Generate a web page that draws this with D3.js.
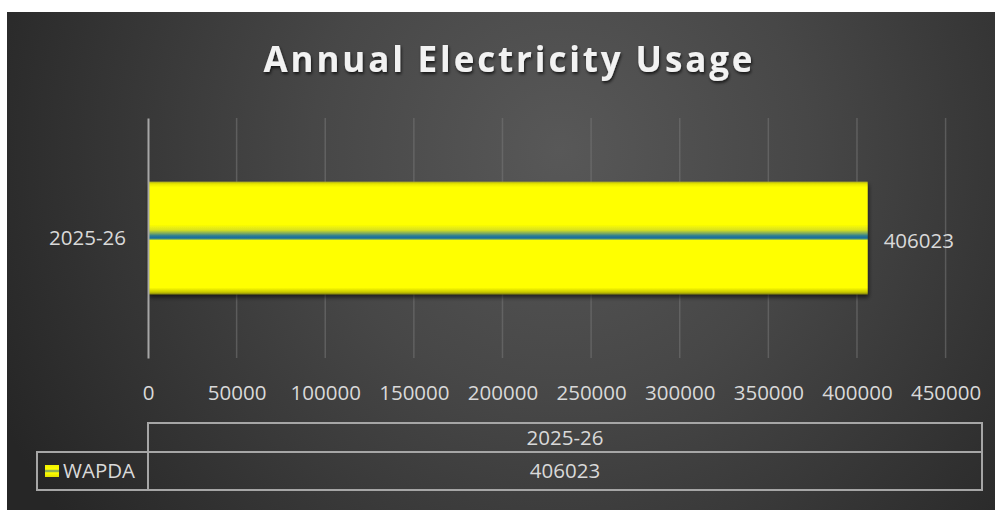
<!DOCTYPE html>
<html><head><meta charset="utf-8">
<script src="https://cdn.jsdelivr.net/npm/d3@7"></script>
<style>
html,body{margin:0;padding:0;background:#fff;}
svg{display:block;font-family:"Open Sans",sans-serif;}
</style></head>
<body>
<svg id="c" width="995" height="510"></svg>
<script>
const title = "Annual Electricity Usage";
const categories = ["2025-26"];
const seriesName = "WAPDA";
const values = [406023];
const xTicks = [0,50000,100000,150000,200000,250000,300000,350000,400000,450000];

const svg = d3.select("#c");
const defs = svg.append("defs");

const bg = defs.append("radialGradient").attr("id","bg")
  .attr("gradientUnits","userSpaceOnUse").attr("cx",560).attr("cy",150).attr("r",620);
bg.append("stop").attr("offset","0%").attr("stop-color","#585858");
bg.append("stop").attr("offset","40%").attr("stop-color","#474747");
bg.append("stop").attr("offset","100%").attr("stop-color","#262626");

const bar = defs.append("linearGradient").attr("id","bar").attr("x1",0).attr("y1",0).attr("x2",0).attr("y2",1);
[["0%","#a8a820"],["2%","#e8e800"],["5%","#ffff00"],["38%","#ffff00"],["43%","#d8e020"],["46%","#7aa860"],["48%","#2f7f90"],["50%","#1a6aa0"],["51%","#5f9f70"],["52%","#ffff00"],["94%","#ffff00"],["98%","#c8c800"],["100%","#808010"]]
  .forEach(s=>bar.append("stop").attr("offset",s[0]).attr("stop-color",s[1]));

const sh = defs.append("filter").attr("id","sh").attr("x","-5%").attr("y","-20%").attr("width","115%").attr("height","150%");
sh.append("feDropShadow").attr("dx",1).attr("dy",3).attr("stdDeviation",2).attr("flood-color","#000").attr("flood-opacity",0.6);
const tsh = defs.append("filter").attr("id","tsh").attr("x","-5%").attr("y","-20%").attr("width","110%").attr("height","160%");
tsh.append("feDropShadow").attr("dx",1).attr("dy",2).attr("stdDeviation",1.5).attr("flood-color","#000").attr("flood-opacity",0.7);

svg.append("rect").attr("x",7).attr("y",12).attr("width",988).attr("height",498).attr("fill","url(#bg)");

svg.append("text").attr("x",508).attr("y",72).attr("text-anchor","middle")
  .attr("fill","#f2f2f2").attr("font-size",35).attr("font-weight","bold")
  .attr("textLength",489).attr("lengthAdjust","spacing")
  .attr("filter","url(#tsh)").text(title);

const x = d3.scaleLinear().domain([0,450000]).range([148,945.6]);
const y = d3.scaleBand().domain(categories).range([118,358]).paddingInner(0.53).paddingOuter(0.265);

// gridlines
svg.append("g").selectAll("line").data(xTicks.slice(1)).join("line")
  .attr("x1",d=>x(d)).attr("x2",d=>x(d)).attr("y1",118).attr("y2",358)
  .attr("stroke","#777").attr("stroke-opacity",0.55).attr("stroke-width",1.5);

// x axis labels
const xa = svg.append("g").attr("transform","translate(0,393)")
  .call(d3.axisBottom(x).tickValues(xTicks).tickSize(0).tickPadding(0).tickFormat(d=>String(d)));
xa.select(".domain").remove();
xa.selectAll("text").attr("fill","#d9d9d9").attr("font-size",20.5).attr("font-family","Open Sans")
  .attr("dy","0.35em").attr("y",0);

// bars
svg.append("g").selectAll("rect").data(values).join("rect")
  .attr("x",x(0)).attr("y",(d,i)=>y(categories[i])).attr("width",d=>x(d)-x(0))
  .attr("height",y.bandwidth()).attr("fill","url(#bar)").attr("filter","url(#sh)");

// y axis
const ya = svg.append("g").attr("transform","translate(148,0)")
  .call(d3.axisLeft(y).tickSize(0).tickPadding(22));
ya.select(".domain").attr("stroke","#a6a6a6").attr("stroke-width",2);
ya.selectAll("text").attr("fill","#d9d9d9").attr("font-size",20.5).attr("font-family","Open Sans").attr("dy","0.35em");

// data labels
svg.append("g").selectAll("text").data(values).join("text")
  .attr("x",d=>x(d)+16).attr("y",(d,i)=>y(categories[i])+y.bandwidth()/2+3)
  .attr("dy","0.35em").attr("fill","#d9d9d9").attr("font-size",20.5).text(d=>String(d));

// data table
const tb = svg.append("g").attr("fill","none").attr("stroke","#a6a6a6").attr("stroke-width",2);
tb.append("rect").attr("x",148).attr("y",423).attr("width",834).attr("height",29);
tb.append("rect").attr("x",37).attr("y",452).attr("width",945).attr("height",38);
tb.append("line").attr("x1",148).attr("x2",148).attr("y1",452).attr("y2",490);

svg.append("text").attr("x",(148+982)/2).attr("y",438).attr("dy","0.35em").attr("text-anchor","middle")
  .attr("fill","#d9d9d9").attr("font-size",20.5).text(categories[0]);
svg.append("text").attr("x",(148+982)/2).attr("y",471).attr("dy","0.35em").attr("text-anchor","middle")
  .attr("fill","#d9d9d9").attr("font-size",20.5).text(String(values[0]));

// legend key
const lk = defs.append("linearGradient").attr("id","lk").attr("x1",0).attr("y1",0).attr("x2",0).attr("y2",1);
[["0%","#f0f000"],["35%","#ffff00"],["45%","#8fb050"],["55%","#8fb050"],["65%","#ffff00"],["100%","#e0e000"]]
  .forEach(s=>lk.append("stop").attr("offset",s[0]).attr("stop-color",s[1]));
svg.append("rect").attr("x",45).attr("y",465).attr("width",14).attr("height",12).attr("fill","url(#lk)");
svg.append("text").attr("x",63).attr("y",471).attr("dy","0.35em").attr("fill","#d9d9d9").attr("font-size",20.5).text(seriesName);
</script>
</body></html>
